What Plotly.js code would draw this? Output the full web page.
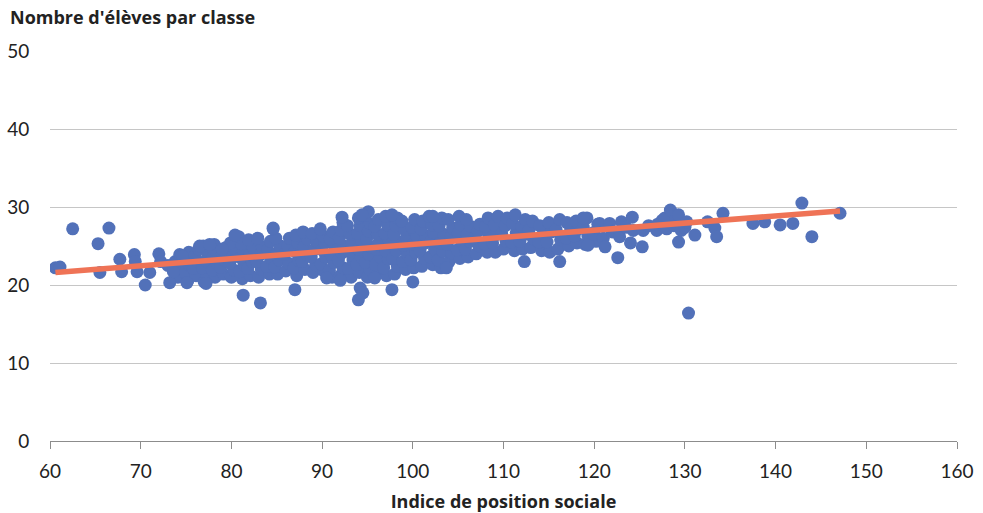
<!DOCTYPE html>
<html>
<head>
<meta charset="utf-8">
<script src="https://cdn.plot.ly/plotly-3.0.1.min.js"></script>
<style>html,body{margin:0;padding:0;background:#fff;}#chart{width:983px;height:513px;}</style>
</head>
<body>
<div id="chart"></div>
<script>
// Core of the point cloud
const coreX = [
 74.1,74.4,73.8,74.3,
 75.2,74.9,75.4,75.0,75.3,
 76.1,75.8,76.3,76.0,76.4,
 77.0,77.3,76.8,77.2,77.4,76.9,
 78.2,77.9,78.4,78.0,78.3,78.1,
 79.1,78.8,79.3,79.0,79.4,
 80.0,80.3,79.8,80.2,80.4,79.9,
 81.2,80.9,81.4,81.0,81.3,81.1,80.8,
 82.1,81.8,82.3,82.0,82.4,81.9,
 83.0,83.3,82.8,83.2,83.4,82.9,
 84.2,83.9,84.4,84.0,84.3,
 85.1,84.8,85.3,85.0,85.4,84.9,84.6,
 86.0,86.3,85.8,86.2,86.4,
 87.2,86.9,87.4,87.0,87.3,87.1,
 88.1,87.8,88.3,88.0,88.4,87.9,
 89.0,89.3,88.8,89.2,89.4,88.9,
 90.2,89.9,90.4,90.0,90.3,90.1,89.8,
 91.1,90.8,91.3,91.0,91.4,90.9,91.2,
 92.0,92.3,91.8,92.2,92.4,91.9,92.1,92.3,
 93.2,92.9,93.4,93.0,93.3,93.1,92.8,
 94.1,93.8,94.3,94.0,94.4,93.9,94.2,94.0,
 95.0,95.3,94.8,95.2,95.4,94.9,95.1,95.3,94.7,
 96.2,95.9,96.4,96.0,96.3,96.1,95.8,96.2,
 97.1,96.8,97.3,97.0,97.4,96.9,97.2,97.0,
 98.0,98.3,97.8,98.2,98.4,97.9,98.1,98.3,
 99.2,98.9,99.4,99.0,99.3,99.1,98.8,
 100.1,99.8,100.3,100.0,100.4,99.9,100.2,
 101.0,101.3,100.8,101.2,101.4,100.9,101.1,
 102.2,101.9,102.4,102.0,102.3,102.1,101.8,
 103.1,102.8,103.3,103.0,103.4,102.9,103.2,
 104.0,104.3,103.8,104.2,104.4,103.9,
 105.2,104.9,105.4,105.0,105.3,105.1,
 106.1,105.8,106.3,106.0,106.4,105.9,
 107.0,107.3,106.8,107.2,107.4,
 108.2,107.9,108.4,108.0,108.3,
 109.1,108.8,109.3,109.0,109.4,
 110.0,110.3,109.8,110.2,110.4,
 111.2,110.9,111.4,111.0,111.3,
 112.1,111.8,112.3,112.0,112.4,
 113.0,113.3,112.8,113.2,
 114.2,113.9,114.4,114.0,
 115.1,114.8,115.3,115.0,
 116.0,116.3,115.8,116.2,
 117.2,116.9,117.4,117.0,
 118.1,117.8,118.3,118.0,
 119.0,119.3,118.8,119.2,
 120.2,119.9,120.4
];
const coreY = [
 21.0,22.0,23.0,23.9,
 20.6,21.6,22.5,23.4,24.2,
 21.2,22.1,23.0,23.8,24.6,
 20.4,21.3,22.2,23.1,24.0,25.0,
 21.0,21.9,22.8,23.6,24.4,25.2,
 21.4,22.3,23.2,24.0,24.8,
 21.0,21.9,22.8,23.7,24.6,25.4,
 20.8,21.7,22.6,23.5,24.4,25.3,26.2,
 21.2,22.1,23.0,23.9,24.8,25.8,
 21.0,22.0,23.0,23.9,24.9,26.0,
 21.4,22.4,23.4,24.5,25.6,
 21.4,22.3,23.2,24.1,25.0,26.0,27.2,
 21.8,22.8,23.9,25.0,26.0,
 21.2,22.2,23.2,24.3,25.4,26.4,
 22.0,23.0,23.9,24.9,25.9,26.8,
 21.6,22.6,23.6,24.6,25.6,26.6,
 21.8,22.7,23.6,24.5,25.4,26.3,27.2,
 21.0,21.9,22.9,23.9,24.9,25.9,26.8,
 21.2,22.2,23.2,24.1,25.0,26.0,27.0,28.0,
 21.0,22.1,23.2,24.3,25.4,26.5,27.6,
 21.6,22.6,23.6,24.6,25.6,26.6,27.6,28.6,
 21.0,21.9,22.9,23.9,24.9,25.9,26.9,27.9,28.9,
 21.6,22.6,23.6,24.6,25.5,26.5,27.5,28.4,
 21.2,22.2,23.3,24.4,25.5,26.6,27.7,28.8,
 21.4,22.4,23.4,24.4,25.5,26.5,27.6,28.6,
 22.0,23.0,24.0,25.1,26.1,27.1,28.2,
 22.2,23.2,24.2,25.2,26.3,27.4,28.4,
 22.4,23.4,24.4,25.3,26.3,27.2,28.2,
 22.6,23.6,24.6,25.6,26.7,27.7,28.8,
 22.2,23.2,24.3,25.4,26.5,27.6,28.6,
 23.0,24.1,25.2,26.2,27.3,28.4,
 23.4,24.5,25.6,26.6,27.7,28.8,
 23.6,24.6,25.6,26.5,27.5,28.4,
 24.0,25.0,26.0,26.9,27.8,
 24.2,25.3,26.4,27.5,28.6,
 24.2,25.4,26.5,27.7,28.8,
 24.6,25.6,26.6,27.6,28.6,
 24.4,25.5,26.7,27.9,29.0,
 24.6,25.6,26.5,27.5,28.4,
 24.8,25.9,27.0,28.2,
 24.4,25.5,26.6,27.6,
 24.2,25.5,26.8,28.0,
 24.6,25.8,27.1,28.4,
 25.0,26.0,27.0,28.0,
 25.4,26.3,27.2,28.2,
 25.2,26.3,27.4,28.6,
 25.6,26.7,27.8
];
// Scattered points at the edges of the cloud
const edgeX = [60.6,61.1,62.5,65.3,65.5,66.5,67.7,67.9,69.3,69.4,69.6,70.5,71.0,72.0,72.2,73.0,73.2,73.6,74.6,75.1,76.5,77.2,77.6,79.0,80.4,81.3,83.2,84.6,87.0,90.5,92.0,92.2,94.0,94.2,94.5,95.1,94.4,95.8,97.7,97.7,100.0,102.2,103.7,112.3,116.2];
const edgeY = [22.2,22.3,27.2,25.3,21.6,27.3,23.3,21.7,23.9,23.0,21.7,20.0,21.6,24.0,23.0,22.5,20.3,21.7,23.7,20.3,25.0,20.2,25.2,24.6,26.4,18.7,17.7,27.3,19.4,20.9,20.6,28.7,18.1,19.6,19.0,29.4,29.0,20.9,19.4,29.0,20.4,28.8,22.2,23.0,23.0];
// Upper range of the index
const highX = [118.8,119.3,120.0,120.6,121.0,121.2,121.7,122.0,122.6,122.8,123.0,123.5,124.0,124.2,124.3,125.3,125.4,126.0,126.9,127.0,127.5,127.8,128.0,128.4,128.8,129.0,129.3,129.3,129.6,130.0,130.2,131.1,132.5,133.3,133.5,134.2,137.5,138.8,140.5,141.9,142.9,144.0,147.1,130.4];
const highY = [28.6,25.1,26.5,27.9,26.0,24.9,27.9,26.8,23.5,26.2,28.1,27.4,25.4,28.7,27.0,24.9,27.0,27.6,27.0,27.8,28.3,28.6,27.2,29.6,27.6,28.4,29.0,25.5,27.0,27.4,28.1,26.4,28.1,27.3,26.2,29.2,27.9,28.1,27.7,27.9,30.5,26.2,29.2,16.4];
// Linear trend line end points
const trendX = [60.6, 147.1];
const trendY = [21.6, 29.5];

const xTicks = [60,70,80,90,100,110,120,130,140,150,160];
const yTicks = [0,10,20,30,40,50];

const allX = coreX.concat(edgeX, highX);
const allY = coreY.concat(edgeY, highY);

const FONT = 'Lato, "Open Sans", sans-serif';
const TFONT = '"Open Sans", Lato, sans-serif';

const traces = [
  {x: allX, y: allY, type: 'scatter', mode: 'markers',
   marker: {size: 13, color: '#5271b9', line: {width: 0}}, hoverinfo: 'x+y'},
  {x: trendX, y: trendY, type: 'scatter', mode: 'lines',
   line: {color: '#ef7356', width: 5.5}, hoverinfo: 'skip'}
];

const layout = {
  width: 983, height: 513,
  margin: {l: 50, r: 26, t: 51, b: 72},
  paper_bgcolor: '#fff', plot_bgcolor: '#fff',
  showlegend: false,
  font: {family: FONT, size: 19, color: '#222'},
  title: {text: "<b>Nombre d'élèves par classe</b>", xref: 'container', yref: 'container',
          x: 10/983, xanchor: 'left', y: 1 - 18/513, yanchor: 'middle',
          font: {family: TFONT, size: 18, color: '#222'}},
  xaxis: {range: [60, 160], tickvals: xTicks, ticktext: xTicks.map(String),
          showgrid: false, zeroline: false, showline: true, linecolor: '#8c8c8c', linewidth: 1,
          ticks: 'outside', ticklen: 7, tickcolor: '#8c8c8c', ticklabelstandoff: 6,
          tickfont: {family: FONT, size: 19, color: '#222'},
          title: {text: '<b>Indice de position sociale</b>', standoff: 14,
                  font: {family: TFONT, size: 18, color: '#222'}}},
  yaxis: {range: [0, 50], tickvals: yTicks, ticktext: yTicks.map(String),
          showgrid: true, gridcolor: '#c6c6c6', gridwidth: 1, zeroline: false, showline: false,
          ticks: 'outside', ticklen: 16, tickcolor: 'rgba(0,0,0,0)',
          tickfont: {family: FONT, size: 19, color: '#222'}}
};

Plotly.newPlot('chart', traces, layout, {displayModeBar: false, staticPlot: true});
</script>
</body>
</html>
